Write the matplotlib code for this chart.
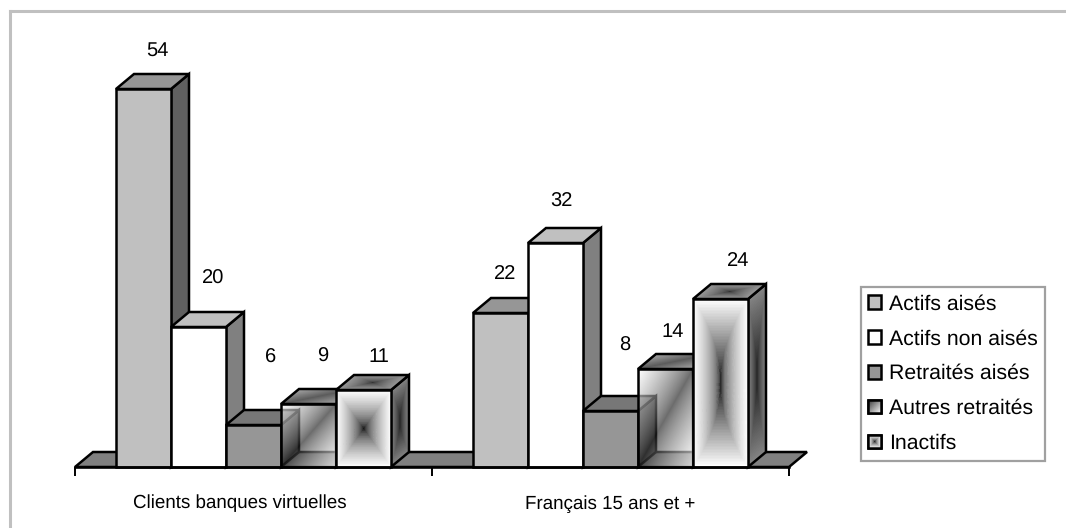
import numpy as np
import matplotlib
matplotlib.use('Agg')
import matplotlib.pyplot as plt
from matplotlib.lines import Line2D
from matplotlib.patches import Patch, Polygon

plt.rcParams['font.family'] = ['Liberation Sans', 'DejaVu Sans']
plt.rcParams['text.hinting'] = 'no_hinting'

# valeurs
groups = ['Clients banques virtuelles', 'Français 15 ans et +']
series = ['Actifs aisés', 'Actifs non aisés', 'Retraités aisés', 'Autres retraités', 'Inactifs']
clients = [54, 20, 6, 9, 11]
francais = [22, 32, 8, 14, 24]

# decalage des etiquettes (pixels, par rapport au coin avant gauche du haut de barre)
label_dx = [[41, 42, 45, 42, 43], [32, 33, 42, 35, 45]]
label_dy = [[38, 48, 67, 47, 33], [39, 41, 65, 37, 38]]

front_col = ['#c0c0c0', '#ffffff', '#969696', None, None]
top_col = ['#969696', '#c0c0c0', '#777777', None, None]
side_col = ['#606060', '#808080', '#4d4d4d', '#606060', None]

W, H = 1066, 528
PX_X = 357          # largeur d'un groupe en pixels
PX_Y = 7            # pixels par unite
bar_w = 55 / PX_X
depth_x = 18 / PX_X
depth_y = 15 / PX_Y
gap = (1 - 5 * bar_w) / 2
EDGE = 1.8
FS = 13.5
FS_LABEL = 14.5
FS_LEGEND = 15.3


def diag(u, v):
    return 0.12 + 0.88 * np.abs(u - v) ** 0.8


def swatch_diag(u, v):
    return 0.2 + 0.8 * (u + 1 - v) / 2


def front_box(u, v):
    a, b = np.abs(2 * u - 1), np.abs(2 * v - 1)
    return 0.02 + 0.98 * np.maximum(a, b) ** 0.55


def front_hourglass(u, v):
    # degrade etire en sablier quand la face est haute
    a, b = np.abs(2 * u - 1), np.abs(2 * v - 1)
    return 0.05 + 0.95 * np.maximum(a ** 0.45, b ** 0.9)


def side_box(u, v):
    a, b = np.abs(2 * u - 1), np.abs(2 * v - 1)
    return 0.12 + 0.4 * np.maximum(a, b ** 1.5) ** 0.7


def top_diag(u, v):
    return 0.36 + 0.3 * np.abs(u - v)


def top_box(u, v):
    a, b = np.abs(2 * u - 1), np.abs(2 * v - 1)
    return 0.18 + 0.42 * np.maximum(a, b) ** 0.6


def outline(ax, corners):
    ax.add_patch(Polygon(corners, closed=True, fill=False, ec='black', lw=EDGE, clip_on=False,
                         joinstyle='miter', zorder=ax.z))
    ax.z += 1


def shade_face(ax, corners, func):
    # corners : bas gauche, bas droite, haut droite, haut gauche
    n = 110
    u, v = np.meshgrid(np.linspace(0, 1, n + 1), np.linspace(0, 1, n + 1))
    c = np.array(corners)
    X = (1 - v) * ((1 - u) * c[0, 0] + u * c[1, 0]) + v * ((1 - u) * c[3, 0] + u * c[2, 0])
    Y = (1 - v) * ((1 - u) * c[0, 1] + u * c[1, 1]) + v * ((1 - u) * c[3, 1] + u * c[2, 1])
    um, vm = (u[:-1, :-1] + u[1:, 1:]) / 2, (v[:-1, :-1] + v[1:, 1:]) / 2
    ax.pcolormesh(X, Y, func(um, vm), cmap='gray', vmin=0, vmax=1,
                  antialiased=False, linewidth=0, clip_on=False, zorder=ax.z)
    ax.z += 1
    outline(ax, corners)


def glass_face(ax, x, x2, h, func, alpha):
    # face avant translucide : on voit la barre voisine a travers
    u, v = np.meshgrid(np.linspace(0, 1, 120), np.linspace(0, 1, 120))
    ax.imshow(func(u, v), cmap='gray', vmin=0, vmax=1, alpha=alpha, origin='lower',
              extent=(x, x2, 0, h), aspect='auto', interpolation='bilinear',
              clip_on=False, zorder=ax.z)
    ax.z += 1
    outline(ax, [(x, 0), (x2, 0), (x2, h), (x, h)])


def flat_face(ax, corners, color):
    ax.add_patch(Polygon(corners, closed=True, fc=color, ec='black', lw=EDGE, clip_on=False,
                         joinstyle='miter', zorder=ax.z))
    ax.z += 1


def draw_bar(ax, x, h, k):
    x2 = x + bar_w
    front = [(x, 0), (x2, 0), (x2, h), (x, h)]
    side = [(x2, 0), (x2 + depth_x, depth_y), (x2 + depth_x, h + depth_y), (x2, h)]
    top = [(x, h), (x2, h), (x2 + depth_x, h + depth_y), (x + depth_x, h + depth_y)]
    if k < 3:
        flat_face(ax, side, side_col[k])
        flat_face(ax, top, top_col[k])
        flat_face(ax, front, front_col[k])
    elif k == 3:
        flat_face(ax, side, side_col[k])
        shade_face(ax, top, top_diag)
        glass_face(ax, x, x2, h, diag, 0.66)
    else:
        shade_face(ax, side, side_box)
        shade_face(ax, top, top_box)
        shade_face(ax, front, front_hourglass if h > 15 else front_box)


fig = plt.figure(figsize=(W / 100, H / 100), dpi=100)
ax = fig.add_axes([75 / W, (H - 467) / H, 714 / W, 467 / H])
ax.z = 3
ax.patch.set_visible(False)

# sol
flat_face(ax, [(0, 0), (2, 0), (2 + depth_x, depth_y), (depth_x, depth_y)], '#808080')

for g, values in enumerate([clients, francais]):
    for k, val in enumerate(values):
        x = g + gap + k * bar_w
        draw_bar(ax, x, val, k)
        ax.annotate(str(val), (x, val), xytext=(label_dx[g][k], label_dy[g][k]),
                    textcoords='offset pixels', ha='center', va='center',
                    fontsize=FS_LABEL, color='black', annotation_clip=False, zorder=200)

ax.set_xlim(0, 2)
ax.set_ylim(0, 467 / PX_Y)
for s in ['top', 'left', 'right']:
    ax.spines[s].set_visible(False)
ax.spines['bottom'].set_linewidth(EDGE)
ax.spines['bottom'].set_zorder(150)
ax.set_yticks([])
ax.set_xticks([0, 1, 2])
ax.set_xticklabels([])
ax.tick_params(axis='x', which='major', direction='out', length=6.5, width=1.4)
ax.set_xticks([0.462, 1.5], minor=True)
ax.set_xticklabels(groups, minor=True, fontsize=FS)
ax.tick_params(axis='x', which='minor', length=0, pad=20)

# legende
handles = [Patch(fc=c if c else 'white', ec='black', lw=EDGE) for c in front_col]
leg = fig.legend(handles, series, loc='upper left', fontsize=FS_LEGEND,
                 bbox_to_anchor=(861 / W, 1 - 287 / H), bbox_transform=fig.transFigure,
                 borderaxespad=0, borderpad=0.34, labelspacing=0.72, handlelength=0.61,
                 handleheight=0.61, handletextpad=0.38, fancybox=False, framealpha=1,
                 edgecolor='#a0a0a0')
leg.get_frame().set_linewidth(1.6)

# cadre gris : seulement en haut et a gauche
fig.add_artist(Line2D([9.5 / W, 9.5 / W], [0, 1 - 10.5 / H], color='#c0c0c0', lw=2.2,
                      transform=fig.transFigure, solid_capstyle='projecting'))
fig.add_artist(Line2D([9.5 / W, 1], [1 - 10.5 / H, 1 - 10.5 / H], color='#c0c0c0', lw=2.2,
                      transform=fig.transFigure, solid_capstyle='projecting'))

# motifs des deux dernieres cases de la legende
fig.canvas.draw()
for patch, func in zip(leg.get_patches()[3:], [swatch_diag, front_box]):
    bb = patch.get_window_extent()
    iax = fig.add_axes([bb.x0 / W, bb.y0 / H, bb.width / W, bb.height / H])
    iax.z = 1
    iax.set_xlim(0, 1)
    iax.set_ylim(0, 1)
    iax.axis('off')
    iax.set_zorder(leg.get_zorder() + 5)
    shade_face(iax, [(0, 0), (1, 0), (1, 1), (0, 1)], func)

fig.savefig('out.png', dpi=100)
